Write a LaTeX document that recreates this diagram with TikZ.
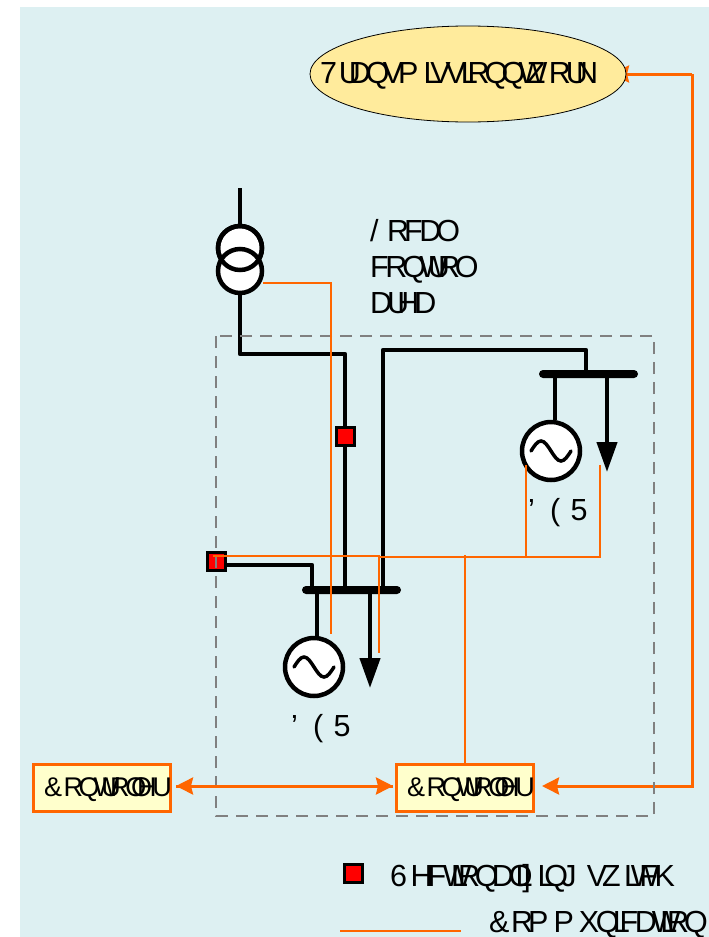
\documentclass[tikz,border=0pt]{standalone}
\usepackage{fontspec}
\setmainfont{Liberation Sans}
\usetikzlibrary{arrows.meta,shapes.geometric}
\definecolor{skyback}{HTML}{DDF0F2}
\definecolor{wireorange}{HTML}{FF6600}
\definecolor{netfill}{HTML}{FFEB9C}
\definecolor{ctrlfill}{HTML}{FFFFCC}
\newlength{\glw}
\newcommand{\gl}[2]{\settowidth{\glw}{#1}\makebox[\glw][l]{#2}}
\newcommand{\txtctrl}{\gl{C}{\&}\gl{o}{R}\gl{n}{Q}\gl{t}{W}\gl{r}{U}\gl{o}{R}\gl{l}{O}\gl{l}{O}\gl{e}{H}\gl{r}{U}}
\newcommand{\txtde}{\gl{D}{'}\gl{E}{(}\gl{R}{5}}
\tikzset{
	feeder/.style={line width=4.3pt, line join=round},
	busbar/.style={rectangle, fill=black, minimum width=99pt, minimum height=8pt, inner sep=0pt, rounded corners=4pt},
	gensym/.style={circle, draw, fill=white, line width=4.5pt, minimum size=58pt, inner sep=0pt},
	trsym/.style={circle, draw, line width=4.5pt, minimum size=44pt, inner sep=0pt},
	swbox/.style={rectangle, draw, fill=red, line width=3pt, minimum size=18pt, inner sep=0pt},
	loadline/.style={feeder, -{Triangle[length=30pt,width=20pt]}},
	comm/.style={draw=wireorange, line width=2.6pt, line join=miter},
	commarrow/.style={comm, line width=3pt, arrows={-{Stealth[length=17pt,width=17pt,inset=2pt]}}},
	ctrlbox/.style={rectangle, draw=wireorange, fill=ctrlfill, line width=3pt, minimum width=137pt, minimum height=47pt, inner sep=0pt},
	lbl/.style={inner sep=0pt, anchor=base west, font=\fontsize{30.5}{36}\selectfont, align=left},
	ctrllbl/.style={lbl, font=\fontsize{27}{36}\selectfont}
}
\begin{document}
\begin{tikzpicture}[>=latex, x=1pt, y=-1pt]
	\useasboundingbox (0,0) rectangle (709,937);
	\fill [skyback] (20,7) rectangle (709,937);
%	transmission network and its link
	\coordinate (netport) at (612,74);
	\coordinate (netcorner) at (692,74);
	\coordinate (netlow) at (692,786);
	\coordinate (rightport) at (542,786);
	\node [ctrlbox] (ctrlright) at (465,787.5) {};
	\node [ctrlbox] (ctrlleft) at (101.5,787.5) {};
	\draw [commarrow] (netcorner) -- (netport);
	\draw [commarrow] (netcorner) -- (netlow) -- (rightport);
	\node [ellipse, draw, line width=0.8pt, fill=netfill, minimum width=316pt, minimum height=96pt, inner sep=0pt] (tnet) at (468,74) {};
	\node [lbl] (tnettext) at (320,83) {\gl{T}{7}\gl{r}{U}\gl{a}{D}\gl{n}{Q}\gl{s}{V}\gl{m}{P}\gl{i}{L}\gl{s}{V}\gl{s}{V}\gl{i}{L}\gl{o}{R}\gl{n}{Q}\gl{n}{Q}\gl{t}{W}\gl{w}{Z}\gl{o}{R}\gl{r}{U}\gl{k}{N}};
%	transformer
	\node [trsym, fill=white] (trup) at (240,248) {};
	\node [trsym, fill=white] (trlow) at (240,271) {};
	\draw [line width=4.5pt] (trup) circle [radius=22pt];
	\coordinate (trtop) at (240,188);
	\draw [feeder] (trtop) -- (trup.north);
	\node [lbl] (areatext) at (370,313) {\gl{L}{/}\gl{o}{R}\gl{c}{F}\gl{a}{D}\gl{l}{O}\\\gl{c}{F}\gl{o}{R}\gl{n}{Q}\gl{t}{W}\gl{r}{U}\gl{o}{R}\gl{l}{O}\\\gl{a}{D}\gl{r}{U}\gl{e}{H}\gl{a}{D}};
%	buses, generators, switches
	\node [busbar] (busup) at (588.5,374) {};
	\node [busbar] (buslow) at (351.5,590) {};
	\node [gensym] (genup) at (551,451) {};
	\node [gensym] (genlow) at (314,667) {};
	\node [swbox] (swmid) at (345,436) {};
	\node [swbox] (swside) at (216,561) {};
	\foreach \g in {genup,genlow}
		\draw [line width=3.5pt, line cap=round] (\g) ++(-20,0) sin ++(10,-10) cos ++(10,10) sin ++(10,10) cos ++(10,-10);
	\coordinate (feedmid) at (345,354);
	\coordinate (feedright) at (383,350);
	\coordinate (feedbus) at (586,350);
	\coordinate (feedside) at (312,565);
	\coordinate (tapup) at (555,374);
	\coordinate (taplow) at (317,590);
	\coordinate (loadup) at (607,472);
	\coordinate (loadlow) at (370,688);
	\draw [feeder] (trlow.south) |- (feedmid) -- (swmid);
	\draw [feeder] (swmid) -- (swmid |- buslow);
	\draw [feeder] (feedright |- buslow) -- (feedright) -- (feedbus) -- (feedbus |- busup);
	\draw [feeder] (swside.east |- feedside) -- (feedside) -- (feedside |- buslow);
	\draw [feeder] (tapup) -- (tapup |- genup.north);
	\draw [feeder] (taplow) -- (taplow |- genlow.north);
	\draw [loadline] (loadup |- busup) -- (loadup);
	\draw [loadline] (loadlow |- buslow) -- (loadlow);
%	local control area
	\draw [gray, line width=1.2pt, dash pattern=on 12pt off 8pt] (216,336) rectangle (654,816);
%	communication
	\coordinate (meastr) at (263,283);
	\coordinate (meascorner) at (331,283);
	\coordinate (measend) at (331,634);
	\coordinate (sideend) at (213,556);
	\coordinate (sidecorner) at (379,556);
	\coordinate (loadend) at (379,653);
	\coordinate (junction) at (379,557);
	\coordinate (upright) at (600,557);
	\coordinate (uprightend) at (600,465);
	\coordinate (upgen) at (526,557);
	\coordinate (upgenend) at (526,465);
	\coordinate (ctrltop) at (465,555);
	\coordinate (linkleft) at (176,786);
	\coordinate (linkright) at (393,786);
	\draw [comm] (meastr) -- (meascorner) -- (measend);
	\draw [comm] (sideend) -- (sidecorner) -- (loadend);
	\draw [comm] (junction) -- (upright) -- (uprightend);
	\draw [comm] (upgen) -- (upgenend);
	\draw [comm] (ctrltop) -- (ctrlright.north -| ctrltop);
	\draw [commarrow] (linkleft) -- (linkright);
	\draw [commarrow] (linkright) -- (linkleft);
	\node [ctrllbl] (ctrlrighttext) at (407,796) {\txtctrl};
	\node [ctrllbl] (ctrllefttext) at (44,796) {\txtctrl};
	\node [lbl] (deuptext) at (528,520) {\txtde};
	\node [lbl] (delowtext) at (291,736) {\txtde};
%	legend
	\node [swbox] (legsw) at (353,873) {};
	\node [lbl] (legswtext) at (390,886) {\gl{S}{6}\gl{e}{H}\gl{c}{F}\gl{t}{W}\gl{i}{L}\gl{o}{R}\gl{n}{Q}\gl{a}{D}\gl{l}{O}\gl{i}{L}\gl{z}{]}\gl{i}{L}\gl{n}{Q}\gl{g}{J}\gl{ }{ }\gl{s}{V}\gl{w}{Z}\gl{i}{L}\gl{t}{W}\gl{c}{F}\gl{h}{K}};
	\coordinate (legstart) at (340,931);
	\coordinate (legend) at (461,931);
	\draw [comm] (legstart) -- (legend);
	\node [lbl] (legcommtext) at (489,932) {\gl{C}{\&}\gl{o}{R}\gl{m}{P}\gl{m}{P}\gl{u}{X}\gl{n}{Q}\gl{i}{L}\gl{c}{F}\gl{a}{D}\gl{t}{W}\gl{i}{L}\gl{o}{R}\gl{n}{Q}};
\end{tikzpicture}
\end{document}
